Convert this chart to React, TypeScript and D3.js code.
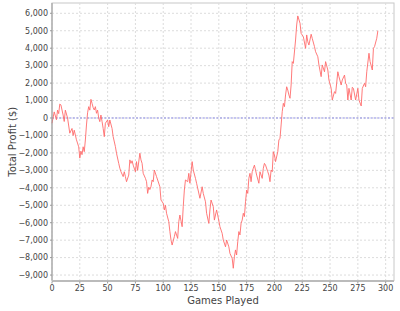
import React from "react";
import * as d3 from "d3";

const games: number[] = [0,2,4,5,6,7,8,10,11,12,14,16,18,19,20,22,24,25,26,27,28,29,30,31,32,33,34,35,36,37,38,39,40,41,42,43,44,45,46,47,48,50,51,52,54,55,57,58,60,61,62,64,65,66,67,69,70,71,72,73,75,76,77,79,80,81,82,84,85,86,87,88,89,90,91,92,94,97,98,100,101,102,103,105,106,107,108,110,111,113,114,115,117,118,119,120,122,123,124,126,127,129,130,133,135,136,138,139,141,142,143,145,146,148,149,151,153,154,156,157,159,160,162,163,164,165,166,167,168,169,170,171,172,173,174,175,176,177,178,179,180,181,182,184,186,187,189,190,191,192,194,195,196,197,198,199,200,201,203,204,205,206,207,208,209,210,211,212,213,214,215,216,217,219,220,221,223,224,226,228,229,230,231,233,234,236,237,239,240,242,243,245,246,248,249,251,252,254,255,257,258,260,261,263,264,265,266,267,269,270,271,273,275,276,278,279,281,282,283,285,286,288,289,290,292,293];
const profit: number[] = [-300,350,-100,450,250,800,750,170,-200,450,0,-870,-600,-1000,-700,-1250,-1650,-2300,-1900,-2100,-1650,-1930,-1260,-400,300,650,450,1070,840,600,460,650,270,450,0,-210,170,-200,-600,-1070,-300,-115,-500,-115,-600,-1070,-1640,-2020,-2600,-2880,-3080,-3360,-3080,-3360,-3650,-3270,-2400,-2600,-2450,-2700,-3080,-2500,-3000,-2020,-2400,-2600,-3170,-3460,-3650,-4320,-3970,-4100,-3930,-3550,-3650,-2980,-3360,-3940,-4700,-4890,-5270,-5000,-5460,-5940,-6510,-6990,-7280,-6800,-6510,-6900,-5940,-5560,-6230,-5080,-4130,-3550,-3650,-3170,-3740,-2500,-2980,-3460,-3740,-4600,-3940,-4320,-4800,-5460,-6040,-5270,-4700,-5080,-5850,-5270,-5560,-6230,-6610,-6990,-7380,-6990,-7380,-7760,-8040,-8610,-7950,-7560,-7850,-7090,-6510,-6700,-6040,-5850,-5460,-5650,-4800,-4130,-4320,-3460,-3170,-3650,-3080,-2880,-2700,-3270,-3740,-3080,-3460,-2880,-2600,-2700,-3080,-3270,-3650,-2980,-3080,-1930,-2120,-2500,-1930,-1260,-1160,-400,360,840,650,1320,1790,1600,1320,1130,1890,3230,3130,4470,5330,5850,5430,4850,4660,3990,4760,4370,4180,4800,4560,4090,3800,3510,3040,2370,3040,2650,3230,2750,2180,1700,1030,1510,1410,2650,2370,1890,2180,2460,1990,1890,1030,1700,1030,1760,1700,1030,1700,1030,690,1700,1990,1790,2650,3710,3230,2750,3990,4090,4570,5000];

const xTicks: number[] = [0,25,50,75,100,125,150,175,200,225,250,275,300];
const yTicks: number[] = [6000,5000,4000,3000,2000,1000,0,-1000,-2000,-3000,-4000,-5000,-6000,-7000,-8000,-9000];
const xTitle = "Games Played";
const yTitle = "Total Profit ($)";

export default function App() {
  const W = 400, H = 311;
  const left = 52, right = 394, top = 3, bottom = 280.5;
  const x = d3.scaleLinear().domain([0, 307.5]).range([left, right]);
  const y = d3.scaleLinear().domain([-9312, 6590]).range([bottom, top]);
  const fmt = d3.format(",");
  const line = d3.line<number>().x((_, i) => x(games[i])).y((v) => y(v));
  const path = line(profit) || "";
  const font = "'DejaVu Sans', sans-serif";
  const tc = "#444";
  return (
    <svg width={W} height={H} style={{ position: "absolute", left: 0, top: 0, background: "#fff" }}>
      <rect x={left} y={top} width={right - left} height={bottom - top} fill="#fff" stroke="#c8c8c8" strokeWidth={1} />
      {xTicks.map((t) => (
        <line key={"gx" + t} x1={x(t)} x2={x(t)} y1={top} y2={bottom} stroke="#dcdcdc" strokeWidth={1} strokeDasharray="2,2" />
      ))}
      {yTicks.map((t) => (
        <line key={"gy" + t} x1={left} x2={right} y1={y(t)} y2={y(t)} stroke="#dcdcdc" strokeWidth={1} strokeDasharray="2,2" />
      ))}
      <line x1={left} x2={right} y1={y(0)} y2={y(0)} stroke="#7070e0" strokeWidth={0.8} strokeDasharray="2,1.5" />
      <path d={path} fill="none" stroke="#ff6b6b" strokeWidth={0.9} strokeLinejoin="round" />
      <line x1={left} x2={left} y1={top} y2={bottom} stroke="#999" strokeWidth={1} />
      <line x1={left} x2={right} y1={bottom + 0.5} y2={bottom + 0.5} stroke="#bbb" strokeWidth={2} />
      {yTicks.map((t) => (
        <g key={"ty" + t}>
          <line x1={left - 2} x2={left} y1={y(t)} y2={y(t)} stroke="#999" />
          <text x={left - 4} y={y(t)} dy="0.35em" textAnchor="end" fontFamily={font} fontSize={8} fill={tc}>{fmt(t)}</text>
        </g>
      ))}
      {xTicks.map((t) => (
        <g key={"tx" + t}>
          <line x1={x(t)} x2={x(t)} y1={bottom + 1} y2={bottom + 3} stroke="#999" />
          <text x={x(t)} y={291} textAnchor="middle" fontFamily={font} fontSize={8} fill={tc}>{t}</text>
        </g>
      ))}
      <text x={(left + right) / 2} y={304} textAnchor="middle" fontFamily={font} fontSize={10} fill={tc}>{xTitle}</text>
      <text transform={`translate(16,${(top + bottom) / 2}) rotate(-90)`} textAnchor="middle" fontFamily={font} fontSize={10} fill={tc}>{yTitle}</text>
    </svg>
  );
}
